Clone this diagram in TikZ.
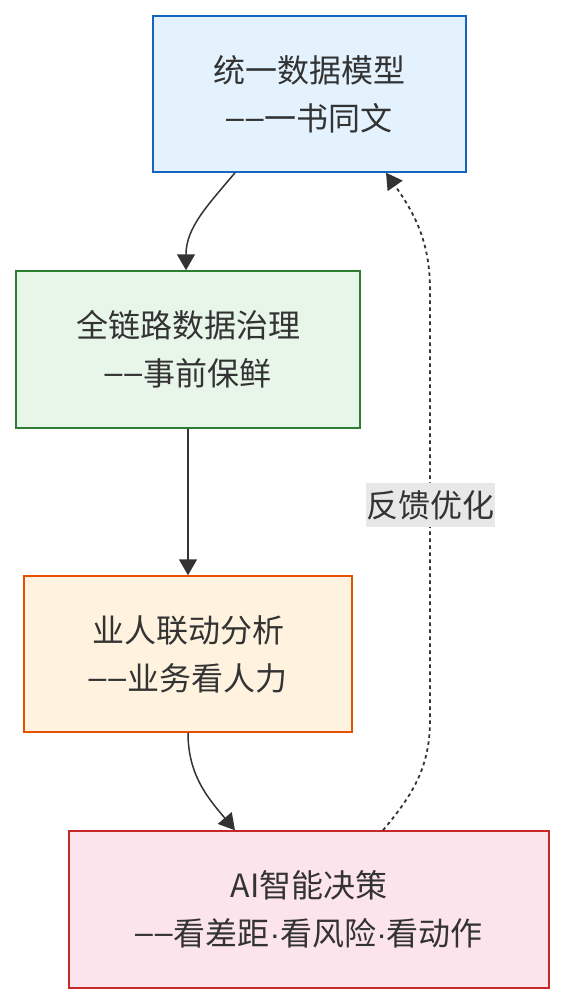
\documentclass[tikz,border=0pt]{standalone}
\usepackage{fontspec}
\setmainfont{Noto Sans CJK SC}
\newfontfamily\latinfont{Liberation Sans}
\usepackage{tikz}
\usetikzlibrary{arrows.meta, positioning, calc}

\definecolor{txt}{HTML}{333333}
\definecolor{bluefill}{HTML}{E3F2FD}
\definecolor{blueline}{HTML}{1565C0}
\definecolor{greenfill}{HTML}{E8F5E9}
\definecolor{greenline}{HTML}{2E7D32}
\definecolor{orangefill}{HTML}{FFF3E0}
\definecolor{orangeline}{HTML}{E65100}
\definecolor{redfill}{HTML}{FCE4EC}
\definecolor{redline}{HTML}{C62828}
\definecolor{lblfill}{HTML}{E8E8E8}

\newcommand{\dd}{\raisebox{2pt}{\latinfont –\kern2pt–\kern1pt}}
\newcommand{\md}{{\latinfont ·}}

\tikzset{
    box/.style={draw, line width=1.5pt, align=center, text=txt,
        font=\fontsize{32}{48}\selectfont, inner sep=0pt},
    flow/.style={-{Triangle[length=16pt, width=18pt]}, line width=1.5pt, draw=txt},
    feedback/.style={flow, line width=1.8pt, dash pattern=on 3.5pt off 3.5pt},
    lbl/.style={fill=lblfill, text=txt, font=\fontsize{32}{36}\selectfont,
        inner xsep=0.5pt, inner ysep=7pt}
}

\begin{document}
\begin{tikzpicture}[x=1pt, y=1pt]
        \useasboundingbox (0, 0) rectangle (564, -1004);
        % Boxes
        \node[box, fill=bluefill, draw=blueline, minimum width=313pt, minimum height=156pt]
            (model) at (309.5, -94) {统一数据模型\\\dd 一书同文};
        \node[box, fill=greenfill, draw=greenline, minimum width=344pt, minimum height=157pt]
            (govern) at (188, -349.5) {全链路数据治理\\\dd 事前保鲜};
        \node[box, fill=orangefill, draw=orangeline, minimum width=328pt, minimum height=156pt]
            (analysis) at (188, -654) {业人联动分析\\\dd 业务看人力};
        \node[box, fill=redfill, draw=redline, minimum width=480pt, minimum height=157pt]
            (decision) at (309, -909.5) {AI智能决策\\\dd 看差距\md 看风险\md 看动作};
        % Main flow
        \draw[flow] ([xshift=-74.5pt]model.south) to[out=-130, in=90] ([xshift=-2pt]govern.north);
        \draw[flow] (govern.south) -- (analysis.south |- analysis.north);
        \draw[flow] (analysis.south) to[out=-90, in=130] ([xshift=-74pt]decision.north);
        % Feedback loop
        \draw[feedback] ([xshift=74pt]decision.north) to[out=50, in=-90] (430, -720)
            -- node[lbl] (fb) {反馈优化} (430, -290)
            to[out=90, in=-55] ([xshift=76.5pt]model.south);
    \end{tikzpicture}
\end{document}
